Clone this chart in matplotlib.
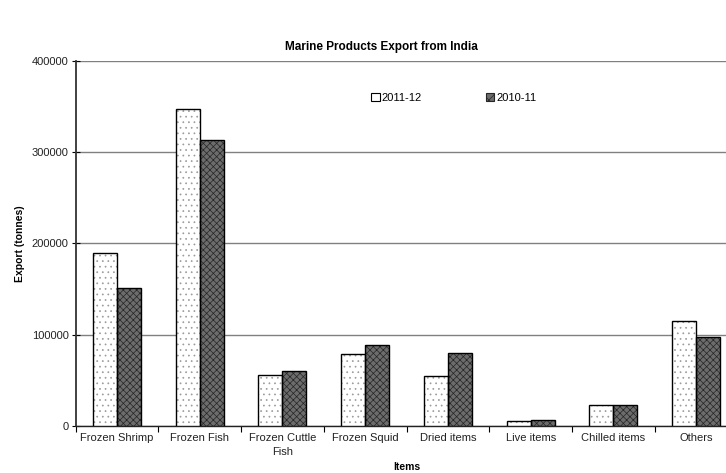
import matplotlib
matplotlib.use("Agg")
import matplotlib.pyplot as plt
import numpy as np
from matplotlib.patches import Patch

plt.rcParams['font.family'] = ['Liberation Sans', 'DejaVu Sans']
plt.rcParams['hatch.linewidth'] = 0.5

categories = ["Frozen Shrimp", "Frozen Fish", "Frozen Cuttle\nFish", "Frozen Squid",
              "Dried items", "Live items", "Chilled items", "Others"]
export_2011_12 = [189000, 347000, 56000, 78500, 55000, 5500, 23000, 115000]
export_2010_11 = [151500, 313000, 60000, 88500, 80000, 6500, 23000, 97500]
yticks = [0, 100000, 200000, 300000, 400000]

fig = plt.figure(figsize=(7.26, 4.73), dpi=100)
# the plot area runs slightly past the right edge of the canvas
ax = fig.add_axes([0.104, 0.0995, 0.912, 0.772])

x = np.arange(len(categories))
w = 0.29
# texture layer (hatch colour follows edgecolor), then a crisp black outline on top
ax.bar(x - w / 2, export_2011_12, w, facecolor='white', edgecolor='#9a9a9a',
       hatch='...', linewidth=0, zorder=3)
ax.bar(x - w / 2, export_2011_12, w, facecolor='none', edgecolor='black',
       linewidth=1.0, zorder=4)
ax.bar(x + w / 2, export_2010_11, w, facecolor='#6c6c6c', edgecolor='#262626',
       hatch='xxxxx', linewidth=0, zorder=3)
ax.bar(x + w / 2, export_2010_11, w, facecolor='none', edgecolor='black',
       linewidth=1.0, zorder=4)

ax.set_xlim(-0.5, len(categories) - 0.5)
ax.set_ylim(0, 400000)
ax.set_yticks(yticks)
ax.set_yticklabels([str(v) for v in yticks], fontsize=8, color='#222222')
ax.yaxis.grid(True, color='#808080', linewidth=1.0, zorder=0)
ax.set_axisbelow(True)

ax.set_xticks(x)
ax.set_xticklabels(categories, fontsize=8, color='#222222', linespacing=1.5)
ax.tick_params(axis='x', length=0, pad=5)
ax.set_xticks(np.arange(len(categories) + 1) - 0.5, minor=True)
ax.tick_params(axis='x', which='minor', length=4, direction='out', width=0.8)
ax.tick_params(axis='y', length=6, direction='inout', width=0.8, pad=2)

for s in ['top', 'right']:
    ax.spines[s].set_visible(False)
ax.spines['left'].set_color('#333333')
ax.spines['left'].set_linewidth(1.3)
ax.spines['bottom'].set_color('#222222')
ax.spines['bottom'].set_linewidth(1.0)

ax.set_ylabel('Export (tonnes)', fontsize=7.5, fontweight='bold', labelpad=5)
ax.set_xlabel('Items', fontsize=7.5, fontweight='bold', labelpad=4)
fig.text(0.526, 1 - 47 / 473, 'Marine Products Export from India', fontsize=8.5,
         fontweight='bold', ha='center', va='center')

# legend handles built from the same styles as the bars
handles = [Patch(facecolor='white', edgecolor='black', linewidth=0.8, label='2011-12'),
           Patch(facecolor='#6c6c6c', edgecolor='#262626', hatch='xxx', linewidth=0.8,
                 label='2010-11')]
ax.legend(handles=handles, loc='upper left', bbox_to_anchor=(0.44, 0.925), ncol=2,
          frameon=False, fontsize=8, handlelength=0.75, handleheight=0.75,
          handletextpad=0.15, columnspacing=5.8, borderaxespad=0)

fig.savefig('out.png', dpi=100)
